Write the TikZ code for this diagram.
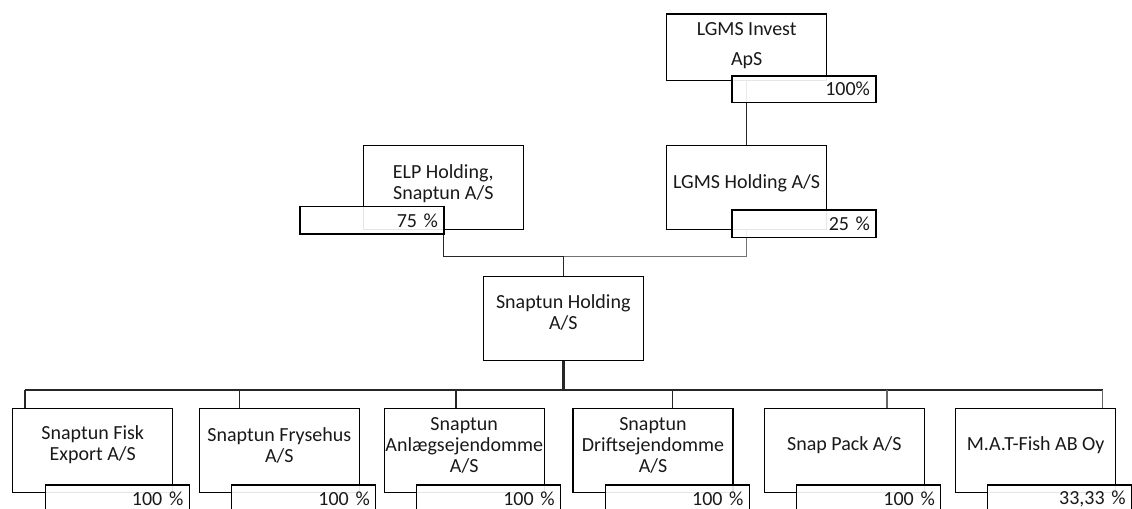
\documentclass[tikz,border=0pt]{standalone}
\usepackage{fontspec}
\setmainfont{Carlito}
\tikzstyle{unit}=[draw, line width=1pt, minimum width=120pt, minimum height=63pt, inner sep=0pt]
\tikzstyle{firmtext}=[align=center, inner sep=0pt, text=black!90, font=\fontsize{15}{15.75}\selectfont]
\tikzstyle{share}=[draw, line width=1pt, fill=white, fill opacity=0.9, text opacity=1, minimum width=108pt, minimum height=20pt, inner xsep=4.5pt, inner ysep=0pt, text width=99pt, align=right, text=black!90, font=\fontsize{15}{15.75}\selectfont]
\tikzstyle{wire}=[line width=1pt, black!85]

\begin{document}
\begin{tikzpicture}[x=0.75pt, y=-0.75pt]
\useasboundingbox (0,0) rectangle (1132,509);
% Owners
    \node[unit, minimum height=50pt] (lgmsi) at (746.7,47.3) {};
    \node[firmtext] (lgmsi-t) at (746.7,46) {LGMS Invest\\[6.75pt]ApS};
    \node[unit] (lgmsh) at (746.7,187.8) {};
    \node[firmtext] (lgmsh-t) at (746.7,182.8) {LGMS Holding A/S};
    \node[unit] (elp) at (443.3,187.5) {};
    \node[firmtext] (elp-t) at (443.3,184) {ELP Holding,\\Snaptun A/S};
% Holding
    \node[unit] (sh) at (563.3,318.7) {};
    \node[firmtext] (sh-t) at (563.3,312.8) {Snaptun Holding\\A/S};
% Subsidiaries
    \node[unit] (fisk) at (92.8,450.3) {};
    \node[firmtext] (fisk-t) at (92.8,445) {Snaptun Fisk\\Export A/S};
    \node[unit] (frys) at (279.3,450.3) {};
    \node[firmtext] (frys-t) at (279.3,445) {Snaptun Frysehus\\A/S};
    \node[unit] (anlaeg) at (464.2,450.3) {};
    \node[firmtext] (anlaeg-t) at (464.2,445) {Snaptun\\Anlægsejendomme\\A/S};
    \node[unit] (drift) at (653,450.3) {};
    \node[firmtext] (drift-t) at (653,445) {Snaptun\\Driftsejendomme\\A/S};
    \node[unit] (pack) at (844.3,450.3) {};
    \node[firmtext] (pack-t) at (844.3,445) {Snap Pack A/S};
    \node[unit] (mat) at (1035.7,450.3) {};
    \node[firmtext] (mat-t) at (1035.7,445) {M.A.T-Fish AB Oy};
% Ownership lines
    \coordinate (own) at (563.3,256.5);
    \draw[wire] (lgmsi) -- (lgmsh);
    \draw[wire] (elp.south) |- (own);
    \draw[wire, black!55] (own) -| (lgmsh.south);
    \draw[wire] (own) -- (sh.north);
% Bus to subsidiaries
    \coordinate (bus1) at (25,390);
    \coordinate (bus2) at (239.3,390);
    \coordinate (bus3) at (456,390);
    \coordinate (bus4) at (672.7,390);
    \coordinate (bus5) at (887,390);
    \coordinate (bus6) at (1102.7,390);
    \draw[wire, line width=2.6pt] (sh.south) -- (sh.south |- bus1);
    \draw[wire] (bus1) -- (bus6);
    \draw[wire] (bus1) -- (bus1 |- fisk.north);
    \draw[wire] (bus2) -- (bus2 |- frys.north);
    \draw[wire] (bus3) -- (bus3 |- anlaeg.north);
    \draw[wire] (bus4) -- (bus4 |- drift.north);
    \draw[wire, black!60] (bus5) -- (bus5 |- pack.north);
    \draw[wire, black!60] (bus6) -- (bus6 |- mat.north);
% Shares
    \node[share] (lgmsi-p) at (804,89.2) {100\%};
    \node[share, minimum height=20.5pt] (elp-p) at (372,220.5) {75 \%};
    \node[share, minimum height=20.5pt] (lgmsh-p) at (804,223.7) {25 \%};
    \node[share] (fisk-p) at (117.3,498.5) {100 \%};
    \node[share] (frys-p) at (303.8,498.5) {100 \%};
    \node[share] (anlaeg-p) at (488.7,498.5) {100 \%};
    \node[share] (drift-p) at (677.5,498.5) {100 \%};
    \node[share] (pack-p) at (868.8,498.5) {100 \%};
    \node[share] (mat-p) at (1059.7,498.5) {33,33 \%};
\end{tikzpicture}
\end{document}
